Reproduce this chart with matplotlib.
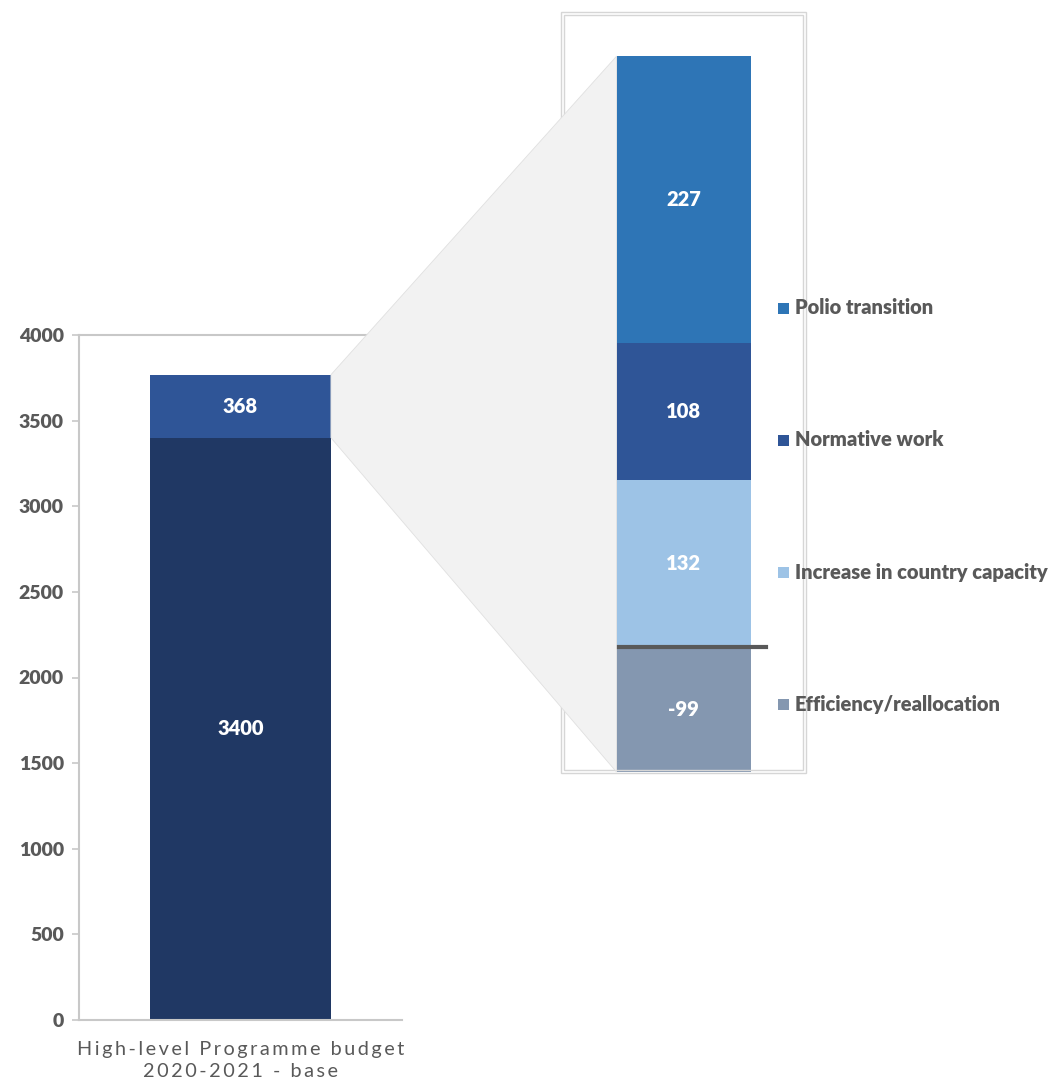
import matplotlib
matplotlib.use("Agg")
import matplotlib.pyplot as plt
from matplotlib.patches import Polygon, Rectangle

plt.rcParams['font.family'] = ['Lato', 'DejaVu Sans']

# ---- data ----
base_category = "High-level Programme budget\n2020-2021 - base"
base_values = [3400, 368]
base_colors = ["#203864", "#2F5597"]

detail_labels = ["Efficiency/reallocation", "Increase in country capacity",
                 "Normative work", "Polio transition"]
detail_values = [-99, 132, 108, 227]
detail_colors = ["#8497B0", "#9DC3E6", "#2F5597", "#2E75B6"]

left_yticks = [0, 500, 1000, 1500, 2000, 2500, 3000, 3500, 4000]

W, H = 1057, 1078
fig = plt.figure(figsize=(W / 100, H / 100), dpi=100)


def px_axes(x0, y0, x1, y1):
    return fig.add_axes([x0 / W, 1 - y1 / H, (x1 - x0) / W, (y1 - y0) / H])


GREY_TXT = "#595959"
SPINE = "#c8c8c8"

# ---- left chart ----
axL = px_axes(79, 335, 402, 1020)
axL.set_xlim(-0.5, 0.5)
axL.set_ylim(0, 4000)
bw = 0.56
bottom = 0
for v, c in zip(base_values, base_colors):
    axL.bar(0, v, bottom=bottom, width=bw, color=c, zorder=2)
    axL.text(0, bottom + v / 2, f"{v}", ha="center", va="center", color="white",
             fontsize=14.5, fontweight="heavy", zorder=3)
    bottom += v
axL.set_yticks(left_yticks)
axL.set_yticklabels([str(t) for t in left_yticks], fontsize=14, fontweight="heavy",
                    color=GREY_TXT)
axL.tick_params(axis="y", length=5, width=1.2, color=SPINE, pad=6)
spaced = "\n".join("\u2009".join(list(line)) for line in base_category.split("\n"))
axL.set_xticks([0])
axL.set_xticklabels([spaced], fontsize=14.3, color=GREY_TXT, linespacing=1.35)
axL.tick_params(axis="x", length=0, pad=15)
for s in ["left", "top", "bottom"]:
    axL.spines[s].set_color(SPINE)
    axL.spines[s].set_linewidth(1.5)
axL.spines["right"].set_visible(False)
axL.set_facecolor("none")

# ---- right chart ----
axR = px_axes(561, 12, 806, 772)
axR.set_xlim(-0.5, 0.5)
axR.set_ylim(-99, 502)
bw2 = 134 / 245
pos_bottom = 0
for v, c in zip(detail_values, detail_colors):
    if v < 0:
        b = 0
    else:
        b = pos_bottom
        pos_bottom += v
    axR.bar(0, v, bottom=b, width=bw2, color=c, zorder=2)
    axR.text(0, b + v / 2, f"{v}", ha="center", va="center", color="white",
             fontsize=14.5, fontweight="heavy", zorder=3)
axR.axhline(0, xmin=39 / 245, xmax=205 / 245, color="#595959", lw=3, zorder=4)
axR.axis("off")

# double frame around right chart
for (x0, y0, x1, y1) in [(561, 12, 806, 773), (564, 15, 803, 770)]:
    fig.patches.append(Rectangle((x0 / W, 1 - y1 / H), (x1 - x0) / W, (y1 - y0) / H,
                                 transform=fig.transFigure, fill=False,
                                 edgecolor="#d6d6d6", lw=1.0, zorder=0.5))

# ---- connecting trapezoid ----
inv = fig.transFigure.inverted()
p1 = inv.transform(axL.transData.transform((bw / 2, base_values[0] + base_values[1])))
p2 = inv.transform(axR.transData.transform((-bw2 / 2, sum(v for v in detail_values if v > 0))))
p3 = inv.transform(axR.transData.transform((-bw2 / 2, min(detail_values))))
p4 = inv.transform(axL.transData.transform((bw / 2, base_values[0])))
fig.patches.append(Polygon([p1, p2, p3, p4], closed=True, transform=fig.transFigure,
                           facecolor="#F2F2F2", edgecolor="#e0e0e0", lw=0.6, zorder=1))

# ---- legend (right side) ----
legend_order = ["Polio transition", "Normative work",
                "Increase in country capacity", "Efficiency/reallocation"]
leg_y = [308, 440, 572, 704]
for lab, yy in zip(legend_order, leg_y):
    col = detail_colors[detail_labels.index(lab)]
    fig.patches.append(Rectangle((778 / W, 1 - (yy + 6) / H), 11 / W, 11 / H,
                                 transform=fig.transFigure, facecolor=col,
                                 edgecolor="none", zorder=3))
    fig.text(795 / W, 1 - yy / H, lab, ha="left", va="center", fontsize=14.5,
             fontweight="heavy", color=GREY_TXT, zorder=3)

fig.savefig("out.png", dpi=100)
